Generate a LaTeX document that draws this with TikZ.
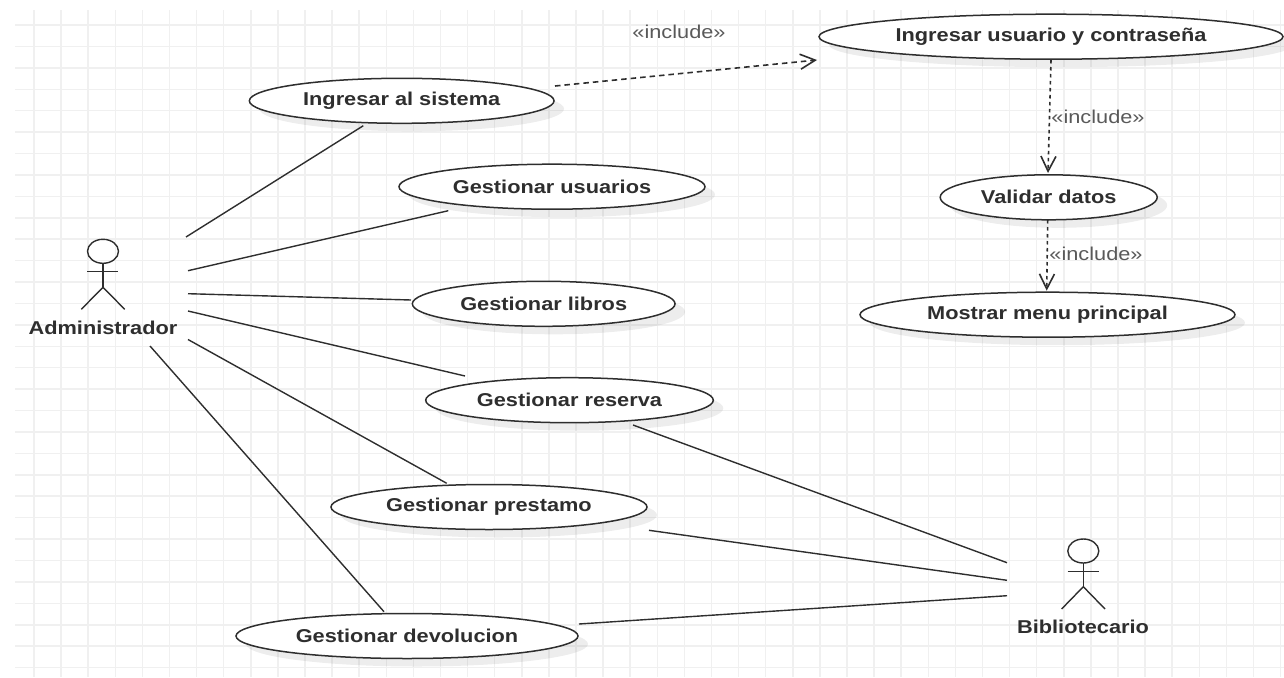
\documentclass[tikz,border=0pt]{standalone}
\usepackage{fontspec}
\setmainfont[FakeStretch=1.17]{Liberation Sans}
\usepackage{tikz}
\usetikzlibrary{shapes,shapes.geometric,arrows.meta,calc,shadows}
\definecolor{inkgray}{HTML}{2E2E2E}
\definecolor{gridgray}{HTML}{F0F0F0}
\tikzstyle{gridline} = [draw=gridgray, line width=1.5pt]
\tikzstyle{assoc} = [draw=inkgray, line width=1.4pt]
\tikzstyle{includearrow} = [draw=inkgray, line width=1.6pt, dash pattern=on 5.5pt off 4pt, -{Straight Barb[length=15pt,width=15pt]}]
\tikzstyle{includedown} = [includearrow, dash pattern=on 3.5pt off 3.5pt]
\tikzstyle{usecase} = [ellipse, draw=inkgray, line width=1.5pt, fill=white, inner sep=0pt, outer sep=0pt, minimum height=45pt, text=inkgray, font=\fontsize{18.6}{21}\selectfont\bfseries, drop shadow={shadow xshift=10pt, shadow yshift=-8pt, fill=black, opacity=0.07}]
\tikzstyle{actorhead} = [ellipse, draw=inkgray, line width=1.4pt, inner sep=0pt, outer sep=0pt, minimum width=31pt, minimum height=24pt]
\tikzstyle{actorname} = [text=inkgray, inner sep=0pt, font=\fontsize{18.6}{21}\selectfont\bfseries]
\tikzstyle{includelabel} = [text=black!65, inner sep=0pt, font=\fontsize{18.6}{21}\selectfont]

\begin{document}
\begin{tikzpicture}[x=1pt, y=-1pt]
      \useasboundingbox (0,0) rectangle (1284,677);

      \foreach \i in {0,...,46}
        \draw[gridline] ({34+27.1*\i},10) -- ({34+27.1*\i},677);
      \foreach \j in {0,...,30}
        \draw[gridline] (15,{25+21.42*\j}) -- (1284,{25+21.42*\j});

      \node (sistema) at (401.7,100.8) [usecase, minimum width=304.7pt] {Ingresar al sistema};
      \node (usuarios) at (552,186.7) [usecase, minimum width=306pt] {Gestionar usuarios};
      \node (libros) at (543.7,303.8) [usecase, minimum width=262.7pt] {Gestionar libros};
      \node (reserva) at (569.5,400.2) [usecase, minimum width=287.6pt] {Gestionar reserva};
      \node (prestamo) at (489,507) [usecase, minimum width=316pt] {Gestionar prestamo};
      \node (devolucion) at (407,636) [usecase, minimum width=342pt] {Gestionar devolucion};
      \node (contrasena) at (1051,36.7) [usecase, minimum width=464pt] {Ingresar usuario y contraseña};
      \node (validar) at (1048.7,197.3) [usecase, minimum width=217pt] {Validar datos};
      \node (menu) at (1047.5,314.7) [usecase, minimum width=375pt] {Mostrar menu principal};

      \node (admin) at (103,251.3) [actorhead] {};
      \draw[assoc] (admin.south) -- ++(0,24) coordinate (adminhip);
      \draw[assoc] (87.3,271.7) -- (118.3,271.7);
      \draw[assoc] (adminhip) -- ++(-21.7,22);
      \draw[assoc] (adminhip) -- ++(21.7,22);
      \node (adminname) at (103,327.7) [actorname] {Administrador};

      \node (biblio) at (1083.3,551) [actorhead] {};
      \draw[assoc] (biblio.south) -- ++(0,23.7) coordinate (bibliohip);
      \draw[assoc] (1067.7,571.7) -- (1099,571.7);
      \draw[assoc] (bibliohip) -- ++(-21.7,22.3);
      \draw[assoc] (bibliohip) -- ++(21.7,22.3);
      \node (biblioname) at (1083,627.3) [actorname] {Bibliotecario};

      \coordinate (adminA) at (186,237);
      \coordinate (adminB) at (188,270.7);
      \coordinate (adminC) at (188,293.7);
      \coordinate (adminD) at (188,311);
      \coordinate (adminE) at (188,339.5);
      \coordinate (adminF) at (150,346);
      \coordinate (biblioA) at (1007,562.7);
      \coordinate (biblioB) at (1007,580.3);
      \coordinate (biblioC) at (1007,595.7);

      \draw[assoc] (adminA) -- ($(sistema)+(-38.4,24.9)$);
      \draw[assoc] (adminB) -- ($(usuarios)+(-103.7,24)$);
      \draw[assoc] (adminC) -- ($(libros)+(-132.7,-3.8)$);
      \draw[assoc] (adminD) -- ($(reserva)+(-104.5,-24.2)$);
      \draw[assoc] (adminE) -- ($(prestamo)+(-42.3,-23.7)$);
      \draw[assoc] (adminF) -- ($(devolucion)+(-23,-24.3)$);
      \draw[assoc] ($(reserva)+(63.5,24.8)$) -- (biblioA);
      \draw[assoc] ($(prestamo)+(160,23.3)$) -- (biblioB);
      \draw[assoc] ($(devolucion)+(172,-12)$) -- (biblioC);

      \draw[includearrow] ($(sistema)+(153.3,-14.8)$) -- ($(contrasena)+(-234,23.3)$);
      \draw[includedown] ($(contrasena)+(0,23.3)$) -- ($(validar)+(-0.7,-24.3)$);
      \draw[includedown] ($(validar)+(-1,22.7)$) -- ($(menu)+(-0.8,-24)$);

      \node (includeA) at (679,32) [includelabel] {«include»};
      \node (includeB) at (1098,116.5) [includelabel] {«include»};
      \node (includeC) at (1096,254) [includelabel] {«include»};
    \end{tikzpicture}
\end{document}
